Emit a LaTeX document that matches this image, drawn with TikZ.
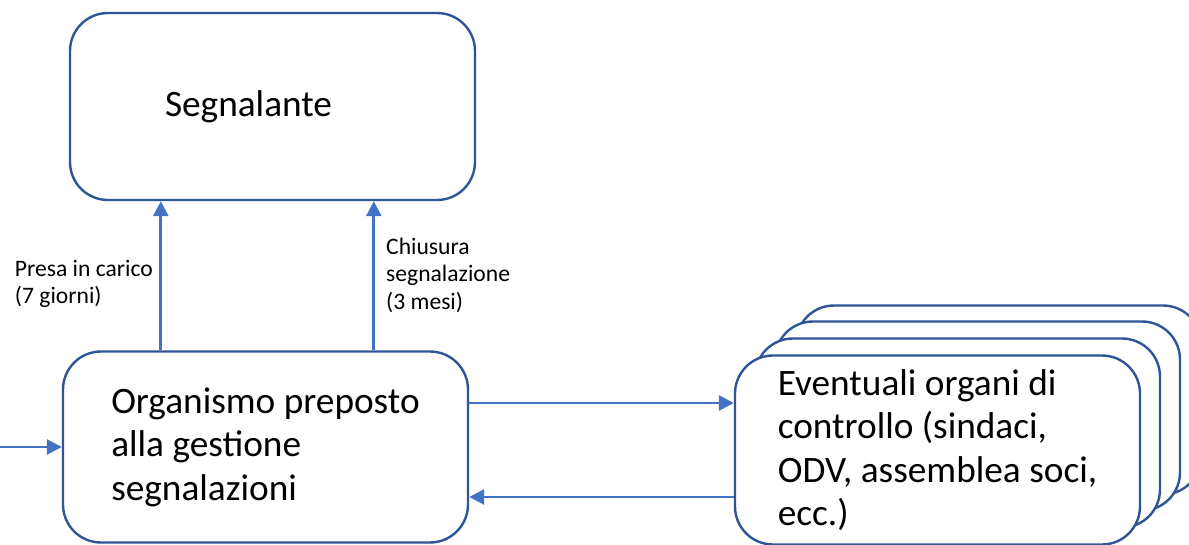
\documentclass[tikz,border=0pt]{standalone}
\usepackage{fontspec}
\setmainfont{Carlito}
\usetikzlibrary{arrows.meta,calc}
\definecolor{boxblue}{HTML}{2F5597}
\definecolor{arrblue}{HTML}{4472C4}
\tikzset{
  box/.style={draw=boxblue, line width=2.4pt, rounded corners=38pt, fill=white,
    minimum width=405pt, inner sep=0pt, align=left,
    font=\fontsize{37.3}{43.5}\selectfont},
  arr/.style={draw=arrblue, line width=2.8pt, -{Triangle[length=15pt,width=15pt]}},
  lbl/.style={font=\fontsize{23.6}{27.5}\selectfont, align=left, inner sep=0pt}
}
\begin{document}
\begin{tikzpicture}[x=1pt,y=-1pt]
\useasboundingbox (0,0) rectangle (1189,544);
\clip (0,0) rectangle (1189,544);
% top box
\node[box, minimum height=187pt, text width=215pt] (seg) at (272.5,106.5) {Segnalante\\[10pt]};
% main box
\node[box, minimum height=191pt] (org) at (265.5,447) {Organismo preposto\\alla gestione\\segnalazioni};
% stacked boxes
\node[box, minimum height=189pt] (ev3) at (998.5,400) {};
\node[box, minimum height=189pt] (ev2) at (977.5,416) {};
\node[box, minimum height=189pt] (ev1) at (957.5,433) {};
\node[box, minimum height=189pt] (ev) at (937.5,450) {Eventuali organi di\\controllo (sindaci,\\ODV, assemblea soci,\\ecc.)};
% arrows up
\draw[arr] ([xshift=99pt]org.north west) -- ([xshift=92pt]seg.south west);
\draw[arr] ([xshift=312pt]org.north west) -- ([xshift=305pt]seg.south west);
\node[lbl, anchor=east] (l1) at (153,284) {Presa in carico\\(7 giorni)};
\node[lbl, anchor=west] (l2) at (386,275) {Chiusura\\segnalazione\\(3 mesi)};
% left incoming
\coordinate (in) at (-2,447);
\draw[arr] (in) -- (org.west);
% right arrows
\draw[arr] ([yshift=44pt]org.east) -- ([yshift=44pt]org.east -| ev.west);
\draw[arr] ([yshift=-47pt]ev.west) -- ([yshift=-47pt]ev.west -| org.east);
\end{tikzpicture}
\end{document}
